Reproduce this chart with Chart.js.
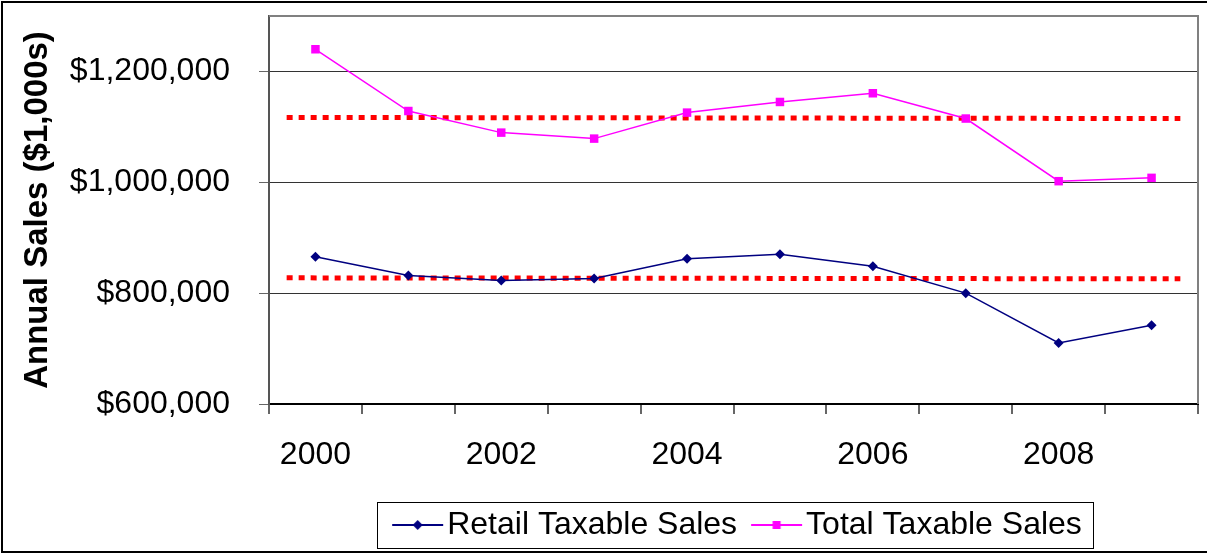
<!DOCTYPE html>
<html>
<head>
<meta charset="utf-8">
<script src="https://cdn.jsdelivr.net/npm/chart.js@4/dist/chart.umd.min.js"></script>
<style>
html,body{margin:0;padding:0;background:#fff;overflow:hidden}
#wrap{position:relative;width:1207px;height:554px}
canvas{display:block}
</style>
</head>
<body>
<div id="wrap"><canvas id="c" width="1207" height="554"></canvas></div>
<script>
// ---- data ----
const years = ['2000','2001','2002','2003','2004','2005','2006','2007','2008','2009'];
const retailSales = [865600, 832000, 823000, 826400, 862000, 870300, 848600, 800000, 710000, 742000];
const totalSales = [1240000, 1128600, 1089600, 1078800, 1125700, 1144900, 1160600, 1115000, 1002000, 1008000];
const yTickValues = [600000, 800000, 1000000, 1200000];
const retailRefLine = [827600, 825800];
const totalRefLine = [1117000, 1115000];
const refLineSpan = [-0.31, 9.31];

const FONT = '"Liberation Sans", Arial, sans-serif';
Chart.defaults.font.family = FONT;
Chart.defaults.color = '#000';

function legendMarker(color, kind) {
  const c = document.createElement('canvas');
  c.width = 80; c.height = 16;
  const g = c.getContext('2d');
  g.strokeStyle = color; g.lineWidth = 2;
  g.beginPath(); g.moveTo(24, 8); g.lineTo(75, 8); g.stroke();
  g.fillStyle = color;
  const cx = 49.5;
  if (kind === 'diamond') {
    g.beginPath(); g.moveTo(cx, 3); g.lineTo(cx + 5, 8); g.lineTo(cx, 13); g.lineTo(cx - 5, 8); g.closePath(); g.fill();
  } else {
    g.fillRect(cx - 4, 4, 8, 8);
  }
  return c;
}
const markers = [legendMarker('#000080', 'diamond'), legendMarker('#FF00FF', 'square')];

const framePlugin = {
  id: 'frame',
  beforeDraw(chart) {
    const ctx = chart.ctx;
    ctx.save(); ctx.fillStyle = '#fff'; ctx.fillRect(0, 0, chart.width, chart.height); ctx.restore();
  },
  afterDraw(chart) {
    const ctx = chart.ctx, a = chart.chartArea;
    ctx.save();
    // plot area border (top + right)
    ctx.strokeStyle = '#808080'; ctx.lineWidth = 2;
    ctx.beginPath(); ctx.moveTo(a.left, a.top); ctx.lineTo(a.right, a.top); ctx.lineTo(a.right, a.bottom); ctx.stroke();
    // legend box
    const hb = chart.legend.legendHitBoxes;
    if (hb && hb.length) {
      const l = Math.min(...hb.map(h => h.left));
      const r = Math.max(...hb.map(h => h.left + h.width));
      const cy = hb[0].top + hb[0].height / 2;
      ctx.strokeStyle = '#000'; ctx.lineWidth = 1;
      ctx.strokeRect(Math.round(l - 8) + 0.5, Math.round(cy - 23) + 0.5, Math.round(r - l + 19), 46);
    }
    // outer frame
    ctx.strokeStyle = '#000'; ctx.lineWidth = 2;
    ctx.strokeRect(2, 2, chart.width + 20, chart.height - 4);
    ctx.restore();
  }
};

new Chart(document.getElementById('c'), {
  type: 'line',
  data: {
    labels: years,
    datasets: [
      {
        label: 'Retail Taxable Sales', data: retailSales, borderColor: '#000080', backgroundColor: '#000080',
        borderWidth: 1.5, pointStyle: 'rectRot', pointRadius: 5, pointBorderWidth: 0, tension: 0, order: 1
      },
      {
        label: 'Total Taxable Sales', data: totalSales, borderColor: '#FF00FF', backgroundColor: '#FF00FF',
        borderWidth: 1.5, pointStyle: 'rect', pointRadius: 6, pointBorderWidth: 0, tension: 0, order: 1
      },
      {
        label: 'retailRef', xAxisID: 'x2',
        data: refLineSpan.map((x, i) => ({x: x, y: retailRefLine[i]})),
        borderColor: '#FF0000', borderWidth: 5, borderDash: [6, 6], borderCapStyle: 'butt', pointRadius: 0, order: 2
      },
      {
        label: 'totalRef', xAxisID: 'x2',
        data: refLineSpan.map((x, i) => ({x: x, y: totalRefLine[i]})),
        borderColor: '#FF0000', borderWidth: 5, borderDash: [6, 6], borderCapStyle: 'butt', pointRadius: 0, order: 2
      }
    ]
  },
  options: {
    responsive: false,
    animation: false,
    devicePixelRatio: 1,
    layout: { padding: { left: 18, right: 9, top: 16, bottom: 3 } },
    plugins: {
      tooltip: { enabled: false },
      legend: {
        position: 'bottom',
        fullSize: false,
        labels: {
          usePointStyle: true,
          pointStyleWidth: 46,
          padding: 7,
          font: { size: 32, family: FONT },
          color: '#000',
          generateLabels(chart) {
            return [0, 1].map(i => ({
              text: chart.data.datasets[i].label,
              pointStyle: markers[i],
              fillStyle: chart.data.datasets[i].borderColor,
              strokeStyle: chart.data.datasets[i].borderColor,
              lineWidth: 0,
              hidden: false,
              datasetIndex: i
            }));
          }
        }
      }
    },
    scales: {
      x: {
        type: 'category',
        offset: true,
        grid: { offset: true, drawOnChartArea: false, drawTicks: true, tickLength: 10, color: '#666', lineWidth: 2 },
        border: { color: '#000', width: 2 },
        ticks: {
          autoSkip: false, maxRotation: 0, padding: 22,
          font: { size: 32, family: FONT }, color: '#000',
          callback(v, i) { return i % 2 === 0 ? this.getLabelForValue(v) : ''; }
        },
        afterFit(s) { s.height = 98; s.paddingLeft = 0; s.paddingRight = 0; }
      },
      x2: { type: 'linear', display: false, min: -0.5, max: 9.5 },
      y: {
        min: 600000, max: 1300000,
        afterBuildTicks(s) { s.ticks = yTickValues.map(v => ({ value: v })); },
        afterFit(s) { s.width = 251; s.paddingTop = 0; s.paddingBottom = 0; },
        grid: { color: '#333', lineWidth: 1, tickLength: 10, drawTicks: true, tickColor: '#666' },
        border: { color: '#555', width: 2 },
        ticks: {
          padding: 29, font: { size: 32, family: FONT }, color: '#000',
          callback(v) { return '$' + Number(v).toLocaleString('en-US'); }
        },
        title: {
          display: true, text: 'Annual Sales ($1,000s)', color: '#000', padding: 0,
          font: { size: 33, weight: 'bold', family: FONT }
        }
      }
    }
  },
  plugins: [framePlugin]
});
</script>
</body>
</html>
